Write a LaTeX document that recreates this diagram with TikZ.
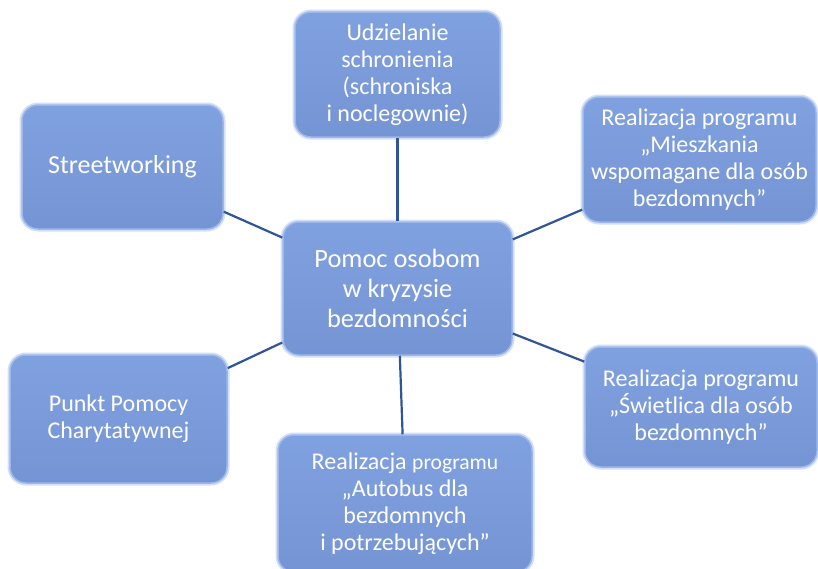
\documentclass[tikz,border=0pt]{standalone}
\usepackage{fontspec}
\setmainfont{Carlito}
\definecolor{boxtop}{HTML}{80A1E0}
\definecolor{boxbot}{HTML}{7594D4}
\definecolor{boxrim}{HTML}{9DB7EC}
\definecolor{glow}{HTML}{D3DFF5}
\definecolor{conn}{HTML}{2F5597}
\tikzset{
  box/.style={rectangle, rounded corners=16pt, top color=boxtop, bottom color=boxbot,
    draw=boxrim, line width=1.5pt,
    preaction={draw=glow, line width=5pt},
    text=white, align=center, inner sep=0pt, font=\fontsize{24}{27}\selectfont},
  conline/.style={draw=conn, line width=2.2pt}
}
\begin{document}
\begin{tikzpicture}[x=1pt,y=-1pt]
\clip (0,0) rectangle (818,568);
\fill[white] (0,0) rectangle (818,568);
\node[box, minimum width=229pt, minimum height=133pt, font=\fontsize{26.4}{30}\selectfont] (c) at (397.5,288.5) {Pomoc osobom\\w kryzysie\\bezdomności};
\node[box, minimum width=205pt, minimum height=125pt] (u) at (397.5,74.5) {Udzielanie\\schronienia\\(schroniska\\i noclegownie)};
\node[box, minimum width=201pt, minimum height=124pt, font=\fontsize{26}{30}\selectfont] (st) at (122.5,167) {Streetworking};
\node[box, minimum width=233pt, minimum height=125pt] (rt) at (699.5,159.5) {Realizacja programu\\„Mieszkania\\wspomagane dla osób\\bezdomnych”};
\node[box, minimum width=217pt, minimum height=128pt] (pp) at (118.5,419) {Punkt Pomocy\\Charytatywnej};
\node[box, minimum width=254pt, minimum height=137pt] (bt) at (405,503.5) {Realizacja {\fontsize{21.6}{27}\selectfont programu}\\„Autobus dla\\bezdomnych\\i potrzebujących”};
\node[box, minimum width=232pt, minimum height=120pt] (rb) at (701,407) {Realizacja programu\\„Świetlica dla osób\\bezdomnych”};
\draw[conline] (c) -- (u);
\draw[conline] (c) -- (st);
\draw[conline] (c) -- (rt);
\draw[conline] (c) -- (pp);
\draw[conline] (c) -- (bt);
\draw[conline] (c) -- (rb);
\end{tikzpicture}
\end{document}
